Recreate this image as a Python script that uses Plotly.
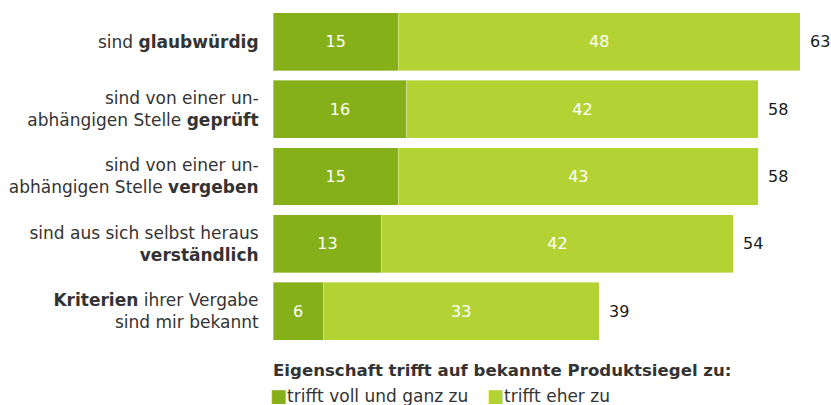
import plotly.graph_objects as go

categories = [
    "sind <b>glaubwürdig</b>",
    "sind von einer un-<br>abhängigen Stelle <b>geprüft</b>",
    "sind von einer un-<br>abhängigen Stelle <b>vergeben</b>",
    "sind aus sich selbst heraus<br><b>verständlich</b>",
    "<b>Kriterien</b> ihrer Vergabe<br>sind mir bekannt",
]
voll = [15, 16, 15, 13, 6]
eher = [48, 42, 43, 42, 33]
totals = [63, 58, 58, 54, 39]
series_names = ["trifft voll und ganz zu", "trifft eher zu"]
legend_title = "<b>Eigenschaft trifft auf bekannte Produktsiegel zu:</b>"

DARK = "#86b01a"
LIGHT = "#b3d334"
FONT = "DejaVu Sans, Verdana, sans-serif"
FS_LABEL = 17
FS_TITLE = 16.6
FS_NUM = 16

ids = list(range(len(categories)))

W, H = 831, 405
L, T, B = 273, 8, 60
plot_w = W - L
plot_h = H - T - B

fig = go.Figure()
for vals, name, col in [(voll, series_names[0], DARK), (eher, series_names[1], LIGHT)]:
    fig.add_trace(go.Bar(
        y=ids, x=vals, orientation="h", name=name,
        marker=dict(color=col, line=dict(color="rgba(255,255,255,0.35)", width=1)),
        text=[str(v) for v in vals], textposition="inside", insidetextanchor="middle",
        textangle=0, textfont=dict(color="white", size=FS_NUM, family=FONT),
        showlegend=False,
    ))

# total labels placed just after the end of each stacked bar
for i, a, b, t in zip(ids, voll, eher, totals):
    fig.add_annotation(x=a + b, y=i, text=str(t), showarrow=False, xanchor="left",
                       xshift=8, font=dict(size=FS_NUM, color="#1a1a1a", family=FONT))

# legend (title + items) as text annotations below the plot
fig.add_annotation(xref="paper", yref="paper", x=-2 / plot_w, y=-25 / plot_h,
                   xanchor="left", yanchor="middle",
                   text=legend_title, showarrow=False, align="left",
                   font=dict(size=FS_TITLE, color="#333333", family=FONT))
sq = '<span style="color:{c};font-size:18px">■</span>'
fig.add_annotation(xref="paper", yref="paper", x=-5 / plot_w, y=-50 / plot_h,
                   xanchor="left", yanchor="middle",
                   text=sq.format(c=DARK) + series_names[0],
                   showarrow=False, font=dict(size=FS_LABEL, color="#333333", family=FONT))
fig.add_annotation(xref="paper", yref="paper", x=212 / plot_w, y=-50 / plot_h,
                   xanchor="left", yanchor="middle",
                   text=sq.format(c=LIGHT) + series_names[1],
                   showarrow=False, font=dict(size=FS_LABEL, color="#333333", family=FONT))

fig.update_layout(
    width=W, height=H,
    margin=dict(l=L, r=0, t=T, b=B, autoexpand=False),
    barmode="stack", bargap=0.14,
    plot_bgcolor="white", paper_bgcolor="white",
    font=dict(family=FONT, size=FS_LABEL, color="#333333"),
    showlegend=False,
    uniformtext=dict(mode="show", minsize=10),
)
fig.update_xaxes(range=[0, plot_w / 8.365], visible=False, fixedrange=True, automargin=False)
fig.update_yaxes(
    tickmode="array", tickvals=ids, ticktext=categories,
    autorange="reversed", showgrid=False, zeroline=False, showline=False,
    ticks="outside", ticklen=10, tickcolor="rgba(0,0,0,0)", automargin=False,
    tickfont=dict(size=FS_LABEL, color="#333333", family=FONT),
)

fig.write_html(
    "out.html",
    config={"displayModeBar": False},
    post_script="document.body.style.margin='0';document.body.style.overflow='hidden';",
)
